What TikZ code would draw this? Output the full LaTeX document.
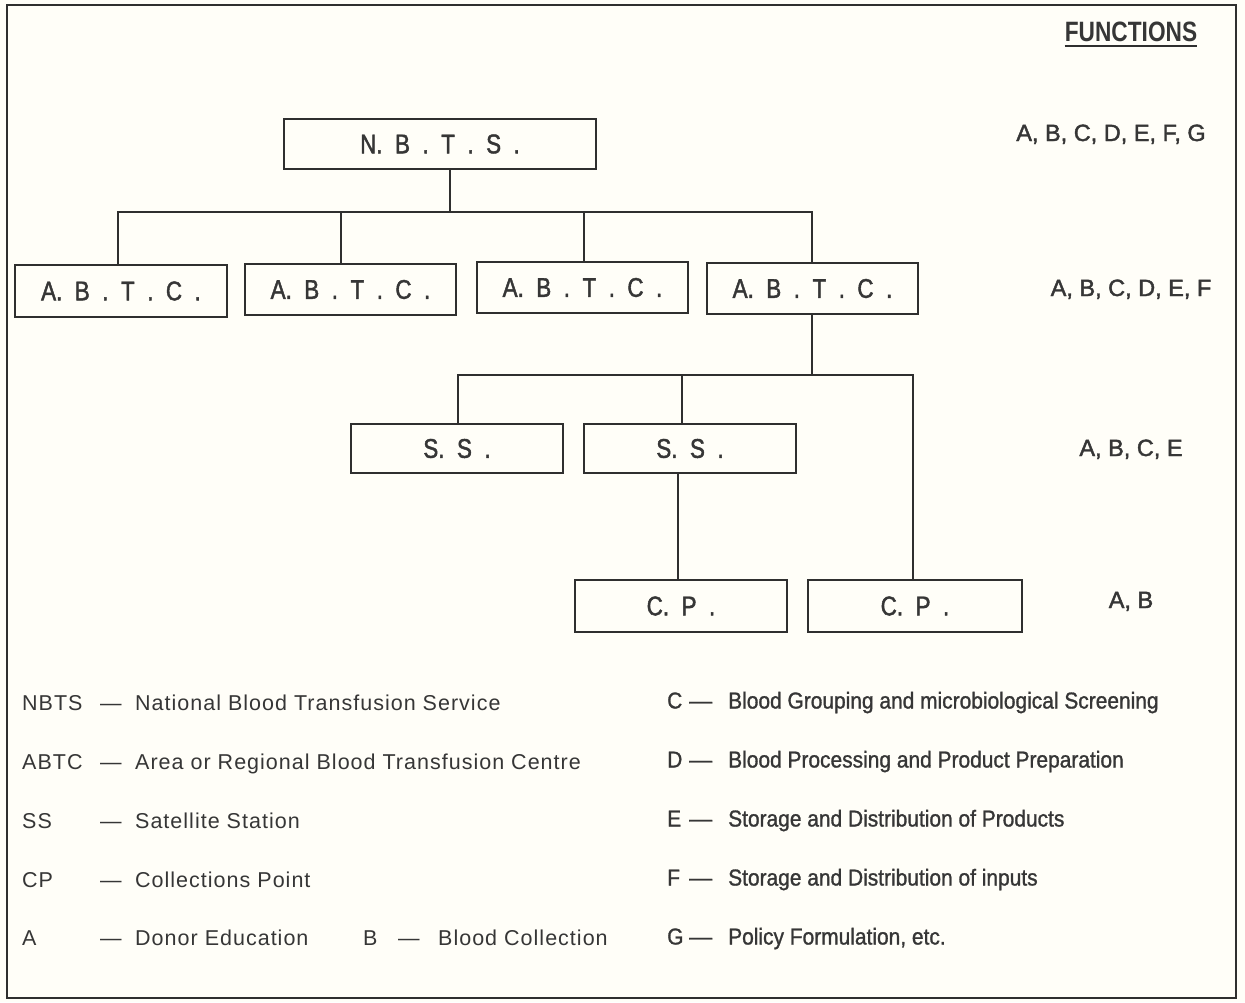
\documentclass[tikz,border=0pt]{standalone}
\usepackage{fontspec}
\usepackage{graphicx}
\setmainfont{Liberation Sans}
\newfontfamily\boxfont[FakeStretch=0.83,FakeBold=1.6]{Liberation Sans}
\newfontfamily\legfont[LetterSpace=4.7]{Liberation Sans}
\newfontfamily\rlegfont[FakeStretch=0.91,FakeBold=1.2]{Liberation Sans}
\newfontfamily\funcfont[FakeBold=1.8]{Liberation Sans}
\newfontfamily\headfont[FakeStretch=0.81]{Liberation Sans}
\definecolor{inkc}{HTML}{2F2F2F}
\definecolor{txtc}{HTML}{363636}
\definecolor{bgc}{HTML}{FFFEF8}
\newcommand\gp{\hspace{12.5pt}}
\tikzset{
  box/.style={draw=inkc, line width=2.6pt, inner sep=0pt, minimum height=51pt,
    font=\boxfont\fontsize{27}{30}\selectfont, text=txtc},
  conn/.style={draw=inkc, line width=2.2pt, line join=miter},
  leg/.style={anchor=base west, inner sep=0pt, font=\legfont\fontsize{21.5}{24}\selectfont, text=txtc},
  rleg/.style={anchor=base west, inner sep=0pt, font=\rlegfont\fontsize{23}{26}\selectfont, text=txtc},
  func/.style={anchor=base, inner sep=0pt, font=\funcfont\fontsize{23.5}{26}\selectfont, text=txtc},
}
\begin{document}
\begin{tikzpicture}[x=1pt,y=-1pt]
\fill[bgc] (0,0) rectangle (1245,1002);
\useasboundingbox (0,0) rectangle (1245,1002);
\draw[inkc, line width=2pt] (7,5) rectangle (1236,998);

% heading
\node[anchor=base, inner sep=0pt, font=\headfont\bfseries\fontsize{28}{30}\selectfont, text=txtc] (head) at (1131,41) {FUNCTIONS};
\draw[inkc, line width=2pt] (head.south west |- 0,46) -- (head.south east |- 0,46);

% boxes
\node[box, minimum width=312pt, minimum height=50pt] (nbts) at (440,144) {N.\gp B\gp .\gp T\gp .\gp S\gp .};
\node[box, minimum width=212pt, minimum height=52pt] (a1) at (121,291) {A.\gp B\gp .\gp T\gp .\gp C\gp .};
\node[box, minimum width=211pt] (a2) at (350.5,289.5) {A.\gp B\gp .\gp T\gp .\gp C\gp .};
\node[box, minimum width=211pt] (a3) at (582.5,287.5) {A.\gp B\gp .\gp T\gp .\gp C\gp .};
\node[box, minimum width=211pt] (a4) at (812.5,288.5) {A.\gp B\gp .\gp T\gp .\gp C\gp .};
\node[box, minimum width=212pt, minimum height=49pt] (ss1) at (457,448.5) {S.\gp S\gp .};
\node[box, minimum width=212pt, minimum height=49pt] (ss2) at (690,448.5) {S.\gp S\gp .};
\node[box, minimum width=212pt, minimum height=52pt] (cp1) at (681,606) {C.\gp P\gp .};
\node[box, minimum width=214pt, minimum height=52pt] (cp2) at (915,606) {C.\gp P\gp .};

% connectors level 1
\coordinate (j0) at (450,212);
\coordinate (bL) at (118,212);
\coordinate (bR) at (812,212);
\coordinate (d2) at (341,212);
\coordinate (d3) at (584,212);
\draw[conn] (nbts.south -| j0) -- (j0);
\draw[conn] (a1.north -| bL) -- (bL) -- (bR) -- (a4.north -| bR);
\draw[conn] (d2) -- (a2.north -| d2);
\draw[conn] (d3) -- (a3.north -| d3);

% connectors level 2
\coordinate (k0) at (812,375);
\coordinate (kL) at (458,375);
\coordinate (kR) at (913,375);
\coordinate (kM) at (682,375);
\draw[conn] (a4.south -| k0) -- (k0);
\draw[conn] (ss1.north -| kL) -- (kL) -- (kR) -- (cp2.north -| kR);
\draw[conn] (kM) -- (ss2.north -| kM);
\coordinate (v1) at (678,527);
\draw[conn] (ss2.south -| v1) -- (cp1.north -| v1);

% functions
\node[func] (f1) at (1111,141) {A, B, C, D, E, F, G};
\node[func] (f2) at (1131,296) {A, B, C, D, E, F};
\node[func] (f3) at (1131,456) {A, B, C, E};
\node[func] (f4) at (1131,608) {A, B};

% left legend
\node[leg] (l1a) at (22,710.5) {NBTS};
\node[leg] (l1d) at (100,710.5) {—};
\node[leg] (l1t) at (135,710.5) {National Blood Transfusion Service};
\node[leg] (l2a) at (22,769.5) {ABTC};
\node[leg] (l2d) at (100,769.5) {—};
\node[leg] (l2t) at (135,769.5) {Area or Regional Blood Transfusion Centre};
\node[leg] (l3a) at (22,828.5) {SS};
\node[leg] (l3d) at (100,828.5) {—};
\node[leg] (l3t) at (135,828.5) {Satellite Station};
\node[leg] (l4a) at (22,887.5) {CP};
\node[leg] (l4d) at (100,887.5) {—};
\node[leg] (l4t) at (135,887.5) {Collections Point};
\node[leg] (l5a) at (22,945.5) {A};
\node[leg] (l5d) at (100,945.5) {—};
\node[leg] (l5t) at (135,945.5) {Donor Education};
\node[leg] (l6a) at (363,945.5) {B};
\node[leg] (l6d) at (398,945.5) {—};
\node[leg] (l6t) at (438,945.5) {Blood Collection};

% right legend
\node[rleg] (r1a) at (667,708.5) {C};
\node[rleg] (r1d) at (689,708.5) {\scalebox{1.1}[1]{—}};
\node[rleg] (r1t) at (728,708.5) {Blood Grouping and microbiological Screening};
\node[rleg] (r2a) at (667,767.5) {D};
\node[rleg] (r2d) at (689,767.5) {\scalebox{1.1}[1]{—}};
\node[rleg] (r2t) at (728,767.5) {Blood Processing and Product Preparation};
\node[rleg] (r3a) at (667,826.5) {E};
\node[rleg] (r3d) at (689,826.5) {\scalebox{1.1}[1]{—}};
\node[rleg] (r3t) at (728,826.5) {Storage and Distribution of Products};
\node[rleg] (r4a) at (667,885.5) {F};
\node[rleg] (r4d) at (689,885.5) {\scalebox{1.1}[1]{—}};
\node[rleg] (r4t) at (728,885.5) {Storage and Distribution of inputs};
\node[rleg] (r5a) at (667,944.5) {G};
\node[rleg] (r5d) at (689,944.5) {\scalebox{1.1}[1]{—}};
\node[rleg] (r5t) at (728,944.5) {Policy Formulation, etc.};
\end{tikzpicture}
\end{document}
